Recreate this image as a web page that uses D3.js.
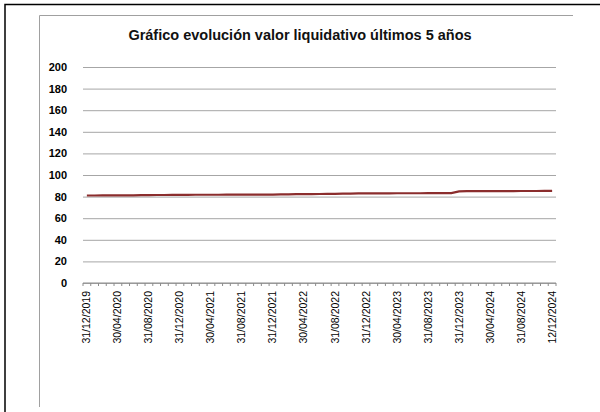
<!DOCTYPE html>
<html>
<head>
<meta charset="utf-8">
<script src="https://cdn.jsdelivr.net/npm/d3@7"></script>
<style>
  body { margin: 0; background: #fff; }
  svg { display: block; font-family: Arial, "Liberation Sans", sans-serif; }
</style>
</head>
<body>
<svg id="chart" width="600" height="412"></svg>
<script>
// monthly closing dates, last point is the latest available
const dates = [
  "31/12/2019","31/01/2020","29/02/2020","31/03/2020","30/04/2020","31/05/2020","30/06/2020","31/07/2020",
  "31/08/2020","30/09/2020","31/10/2020","30/11/2020","31/12/2020","31/01/2021","28/02/2021","31/03/2021",
  "30/04/2021","31/05/2021","30/06/2021","31/07/2021","31/08/2021","30/09/2021","31/10/2021","30/11/2021",
  "31/12/2021","31/01/2022","28/02/2022","31/03/2022","30/04/2022","31/05/2022","30/06/2022","31/07/2022",
  "31/08/2022","30/09/2022","31/10/2022","30/11/2022","31/12/2022","31/01/2023","28/02/2023","31/03/2023",
  "30/04/2023","31/05/2023","30/06/2023","31/07/2023","31/08/2023","30/09/2023","31/10/2023","30/11/2023",
  "31/12/2023","31/01/2024","29/02/2024","31/03/2024","30/04/2024","31/05/2024","30/06/2024","31/07/2024",
  "31/08/2024","30/09/2024","31/10/2024","30/11/2024","12/12/2024"
];
const values = [
  81.0, 81.0, 81.1, 81.1, 81.1, 81.2, 81.2, 81.3,
  81.4, 81.5, 81.5, 81.6, 81.6, 81.6, 81.7, 81.7,
  81.7, 81.7, 81.8, 81.8, 81.8, 81.8, 81.9, 81.9,
  81.9, 82.0, 82.1, 82.2, 82.3, 82.3, 82.4, 82.5,
  82.6, 82.7, 82.8, 82.9, 83.0, 83.0, 83.0, 83.0,
  83.1, 83.1, 83.1, 83.1, 83.2, 83.2, 83.2, 83.2,
  84.9, 85.0, 85.0, 85.0, 85.1, 85.1, 85.1, 85.1,
  85.2, 85.2, 85.2, 85.3, 85.3
];
const yTicks = [0, 20, 40, 60, 80, 100, 120, 140, 160, 180, 200];
const title = "Gráfico evolución valor liquidativo últimos 5 años";

const svg = d3.select("#chart");

// screenshot frame: outer black edge and inner grey chart-area edge
svg.append("path").attr("d", "M5,412 V4.5 H600").attr("fill", "none").attr("stroke", "#000").attr("stroke-width", 1.5);
svg.append("path").attr("d", "M39.5,407 V15.5 H573").attr("fill", "none").attr("stroke", "#a0a0a0").attr("stroke-width", 1);

const margin = {top: 67, left: 83, right: 44, bottom: 129};
const width = 600 - margin.left - margin.right;
const height = 412 - margin.top - margin.bottom;
const g = svg.append("g").attr("transform", "translate(" + margin.left + "," + margin.top + ")");

const x = d3.scaleBand().domain(dates).range([0, width]);
const y = d3.scaleLinear().domain([0, 200]).range([height, 0]);

svg.append("text")
  .attr("x", 300).attr("y", 40)
  .attr("text-anchor", "middle")
  .attr("font-size", 14.5).attr("font-weight", "bold")
  .attr("fill", "#111")
  .text(title);

// gridlines + y labels
const yAxis = g.append("g")
  .call(d3.axisLeft(y).tickValues(yTicks).tickSize(-width).tickPadding(16));
yAxis.select(".domain").remove();
yAxis.selectAll(".tick line").attr("stroke", "#a6a6a6").attr("stroke-width", 1);
yAxis.selectAll(".tick text").attr("font-size", 11).attr("font-weight", "bold").attr("fill", "#000")
  .attr("font-family", "Arial, 'Liberation Sans', sans-serif");

// category axis: ticks between categories
const xg = g.append("g").attr("transform", "translate(0," + height + ")");
xg.append("line").attr("x1", 0).attr("x2", width).attr("stroke", "#8c8c8c");
xg.selectAll("line.tk")
  .data(dates.concat(["end"]))
  .join("line")
  .attr("class", "tk")
  .attr("x1", (d, i) => i * x.step()).attr("x2", (d, i) => i * x.step())
  .attr("y1", 0).attr("y2", 3)
  .attr("stroke", "#8c8c8c");

xg.selectAll("text")
  .data(dates.filter((d, i) => i % 4 === 0))
  .join("text")
  .attr("transform", d => "translate(" + (x(d) + x.bandwidth() / 2 + 3.5) + ",8) rotate(-90)")
  .attr("text-anchor", "end")
  .attr("font-size", 10.5)
  .attr("fill", "#000")
  .text(d => d);

const line = d3.line()
  .x((d, i) => x(dates[i]) + x.bandwidth() / 2)
  .y(d => y(d));

g.append("path")
  .datum(values)
  .attr("fill", "none")
  .attr("stroke", "#8b2d2d")
  .attr("stroke-width", 2.2)
  .attr("d", line);
</script>
</body>
</html>
